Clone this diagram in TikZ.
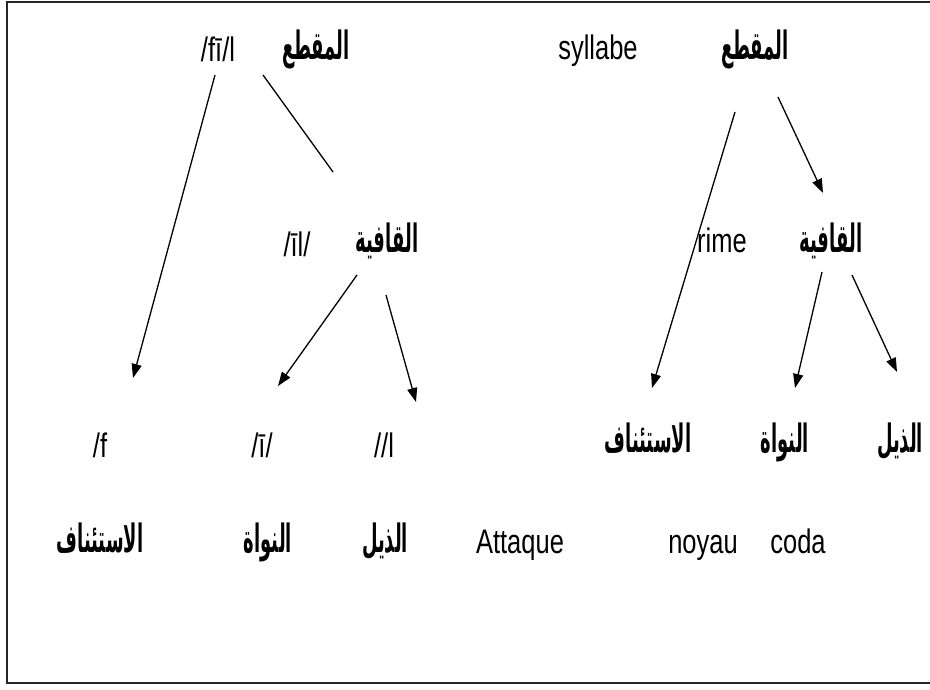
\documentclass[tikz,border=0pt]{standalone}
\usepackage{fontspec}
\usetikzlibrary{arrows.meta}
\TeXXeTstate=1
\setmainfont[FakeStretch=0.75]{Liberation Sans}
\newfontfamily\arabicfont[Script=Arabic,FakeStretch=0.46]{DejaVu Sans Bold}
\newcommand{\ar}[1]{{\arabicfont\beginR #1\endR}}
\tikzset{
  lbl/.style={inner sep=0pt, anchor=base, font=\fontsize{34}{36}\selectfont},
  albl/.style={inner sep=0pt, anchor=base, font=\fontsize{39}{42}\selectfont},
  arr/.style={line width=1.3pt, -{Triangle[length=14pt,width=10pt]}},
  plain/.style={line width=1.3pt},
  frame/.style={line width=2pt, draw=black!85}
}
\begin{document}
\begin{tikzpicture}[x=1pt,y=-1pt]
\useasboundingbox (0,0) rectangle (930,690);
% open frame: left, top and bottom edges
\draw[frame] (930,2) -- (7,2) -- (7,683) -- (930,683);

% ---- left tree (transcriptions) ----
\node[lbl] (fil) at (218,62) {/fī/l};
\node[albl] (mq1) at (316,60) {\ar{المقطع}};
\node[lbl] (il) at (297,256) {/īl/};
\node[albl] (qf1) at (387,252) {\ar{القافية}};
\node[lbl] (f) at (100,457) {/f};
\node[lbl] (i) at (262,457) {/ī/};
\node[lbl] (l) at (384,457) {//l};
\node[albl] (st1) at (100,552) {\ar{الاستئناف}};
\node[albl] (nw1) at (268,552) {\ar{النواة}};
\node[albl] (dh1) at (385,552) {\ar{الذيل}};

\coordinate (fil-s) at (215,75);
\coordinate (f-n) at (133,378);
\coordinate (fil-r) at (263,75);
\coordinate (il-n) at (333,172);
\coordinate (qf1-a) at (357,275);
\coordinate (i-n) at (278,386);
\coordinate (qf1-b) at (386,295);
\coordinate (l-n) at (416,402);

\draw[arr] (fil-s) -- (f-n);
\draw[plain] (fil-r) -- (il-n);
\draw[arr] (qf1-a) -- (i-n);
\draw[arr] (qf1-b) -- (l-n);

% ---- right tree (terms) ----
\node[lbl] (syl) at (598,60) {syllabe};
\node[albl] (mq2) at (755,60) {\ar{المقطع}};
\node[lbl] (rime) at (722,253) {rime};
\node[albl] (qf2) at (831,252) {\ar{القافية}};
\node[albl] (st2) at (648,452) {\ar{الاستئناف}};
\node[albl] (nw2) at (785,452) {\ar{النواة}};
\node[albl] (dh2) at (900,452) {\ar{الذيل}};
\node[lbl] (att) at (520,553) {Attaque};
\node[lbl] (noy) at (703,553) {noyau};
\node[lbl] (coda) at (798,553) {coda};

\coordinate (mq2-a) at (735,112);
\coordinate (st2-n) at (652,388);
\coordinate (mq2-b) at (778,97);
\coordinate (qf2-n) at (823,193);
\coordinate (qf2-a) at (822,272);
\coordinate (nw2-n) at (795,388);
\coordinate (qf2-b) at (852,275);
\coordinate (dh2-n) at (897,372);

\draw[arr] (mq2-a) -- (st2-n);
\draw[arr] (mq2-b) -- (qf2-n);
\draw[arr] (qf2-a) -- (nw2-n);
\draw[arr] (qf2-b) -- (dh2-n);
\end{tikzpicture}
\end{document}
